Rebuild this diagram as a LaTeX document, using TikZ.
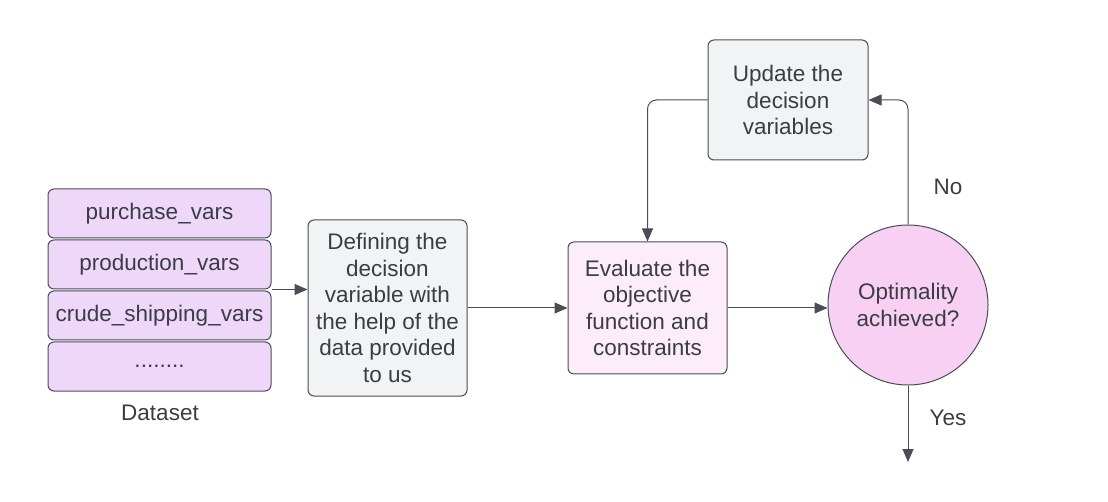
\documentclass[tikz,border=0pt]{standalone}
\usepackage{fontspec}
\setmainfont{Liberation Sans}
\usepackage{tikz}
\usetikzlibrary{arrows.meta}

\definecolor{lineGray}{HTML}{4A4D55}
\definecolor{textDark}{HTML}{3A3D46}
\definecolor{dataFill}{HTML}{EFD7FA}
\definecolor{greyFill}{HTML}{F2F3F5}
\definecolor{evalFill}{HTML}{FDEDFA}
\definecolor{optFill}{HTML}{F7D0F3}

\tikzset{
  box/.style={draw=lineGray, line width=1pt, rounded corners=6pt, align=center, text=textDark,
    inner sep=0pt, font=\fontsize{22.5}{26.5}\selectfont},
  databox/.style={box, fill=dataFill, minimum width=223pt, minimum height=49pt},
  link/.style={draw=lineGray, line width=1pt, -{Triangle[length=13pt,width=11pt]}},
  lbl/.style={text=textDark, font=\fontsize{22.5}{26.5}\selectfont},
}

\begin{document}
\begin{tikzpicture}[x=1pt,y=-1pt]
        \useasboundingbox (0,0) rectangle (1108,502);
        % dataset stack
        \node[databox] (purch) at (159.5, 213.5) {purchase\_vars};
        \node[databox] (prod) at (159.5, 264.5) {production\_vars};
        \node[databox] (crude) at (159.5, 315.5) {crude\_shipping\_vars};
        \node[databox] (dots) at (159.5, 366.5) {........};
        \node[lbl] (dset) at (160, 413) {Dataset};
        %%%
        \node[box, fill=greyFill, minimum width=159pt, minimum height=176pt] (def) at (387.5, 308)
            {Defining the\\decision\\variable with\\the help of the\\data provided\\to us};
        \node[box, fill=evalFill, minimum width=159pt, minimum height=132pt] (eval) at (647.5, 308)
            {Evaluate the\\objective\\function and\\constraints};
        \node[box, fill=greyFill, minimum width=160pt, minimum height=120pt] (upd) at (788, 100)
            {Update the\\decision\\variables};
        \node[circle, draw=lineGray, line width=1pt, fill=optFill, minimum size=160pt, inner sep=0pt,
            align=center, text=textDark, font=\fontsize{22.5}{26.5}\selectfont] (opt) at (908, 305)
            {Optimality\\achieved?};
        \coordinate (yesEnd) at (908, 462);
        \node[lbl] (yes) at (948, 418) {Yes};
        \node[lbl] (no) at (948, 187) {No};
        %%%
        \draw[link] (prod.south east) -- (prod.south east -| def.west);
        \draw[link] (def.east) -- (eval.west);
        \draw[link] (eval.east) -- (eval.east -| opt.west);
        \draw[link] (opt.south) -- (yesEnd);
        \draw[link, rounded corners=9pt] (opt.north) |- (upd.east);
        \draw[link, rounded corners=9pt] (upd.west) -| (eval.north);
\end{tikzpicture}
\end{document}
